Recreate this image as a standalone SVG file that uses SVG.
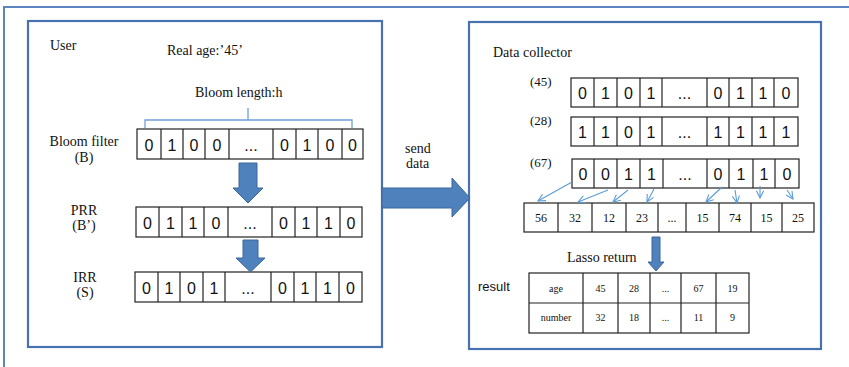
<svg xmlns="http://www.w3.org/2000/svg" width="849" height="367" viewBox="0 0 849 367">
<defs>
<style>
.frame{fill:none;stroke:#5b86c0;stroke-width:2}
.box{fill:#fff;stroke:#4673ad;stroke-width:2.2}
.cell{fill:#fff;stroke:#222;stroke-width:1.2}
.div{stroke:#222;stroke-width:1.2}
.lbl{font-family:"Liberation Serif","Times New Roman",serif;font-size:14px;fill:#111}
.bit{font-family:"Liberation Sans",Arial,sans-serif;font-size:16px;fill:#111;text-anchor:middle}
.num{font-family:"Liberation Serif","Times New Roman",serif;font-size:12px;fill:#111;text-anchor:middle}
.tab{font-family:"Liberation Serif","Times New Roman",serif;font-size:10px;fill:#111;text-anchor:middle}
.sans{font-family:"Liberation Sans",Arial,sans-serif;font-size:13px;fill:#111}
.big{fill:#4f81bd;stroke:#3c679b;stroke-width:1}
.thin{fill:none;stroke:#5b9bd5;stroke-width:1.1}
.brace{fill:none;stroke:#6fa0d8;stroke-width:1.3}
</style>
<marker id="open" viewBox="0 0 10 10" refX="9" refY="5" markerWidth="9" markerHeight="9" orient="auto" markerUnits="userSpaceOnUse">
<path d="M1,1 L9,5 L1,9" fill="none" stroke="#5b9bd5" stroke-width="1.2"/>
</marker>
</defs>
<rect width="849" height="367" fill="#fff"/>
<rect class="frame" x="4" y="7" width="860" height="380"/>

<g id="user">
<rect class="box" x="28" y="21" width="354" height="326"/>
<text class="lbl" x="50" y="50">User</text>
<text class="lbl" x="167" y="55">Real age:’45’</text>
<text class="lbl" x="195" y="97">Bloom length:h</text>
<path class="brace" d="M145,128 V120 H248 V108 M248,120 H352 V128"/>
<text class="lbl" x="84" y="146" text-anchor="middle">Bloom filter</text>
<text class="lbl" x="84" y="162" text-anchor="middle">(B)</text>
<text class="lbl" x="84" y="215" text-anchor="middle">PRR</text>
<text class="lbl" x="84" y="230" text-anchor="middle">(B’)</text>
<text class="lbl" x="85" y="282" text-anchor="middle">IRR</text>
<text class="lbl" x="85" y="297" text-anchor="middle">(S)</text>
</g>

<g id="bloom-filter">
<rect class="cell" x="137" y="129" width="226" height="30"/>
<path class="div" d="M161,129V159M183,129V159M205,129V159M229,129V159M273,129V159M296,129V159M318,129V159M342,129V159"/>
<text class="bit" y="151"><tspan x="149">0</tspan><tspan x="172">1</tspan><tspan x="194">0</tspan><tspan x="217">0</tspan><tspan x="251">...</tspan><tspan x="284.5">0</tspan><tspan x="307">1</tspan><tspan x="330">0</tspan><tspan x="352.5">0</tspan></text>
</g>

<g id="prr">
<rect class="cell" x="136" y="207" width="226" height="30"/>
<path class="div" d="M159,207V237M182,207V237M204,207V237M228,207V237M272,207V237M295,207V237M317,207V237M340,207V237"/>
<text class="bit" y="229"><tspan x="147.5">0</tspan><tspan x="170.5">1</tspan><tspan x="193">1</tspan><tspan x="216">0</tspan><tspan x="250">...</tspan><tspan x="283.5">0</tspan><tspan x="306">1</tspan><tspan x="328.5">1</tspan><tspan x="351">0</tspan></text>
</g>

<g id="irr">
<rect class="cell" x="135" y="272" width="227" height="30"/>
<path class="div" d="M158,272V302M180,272V302M203,272V302M225,272V302M271,272V302M294,272V302M316,272V302M339,272V302"/>
<text class="bit" y="294"><tspan x="146.5">0</tspan><tspan x="169">1</tspan><tspan x="191.5">0</tspan><tspan x="214">1</tspan><tspan x="248">...</tspan><tspan x="282.5">0</tspan><tspan x="305">1</tspan><tspan x="327.5">1</tspan><tspan x="350.5">0</tspan></text>
</g>

<g id="collector">
<rect class="box" x="469" y="22" width="352" height="327"/>
<text class="lbl" x="493" y="57">Data collector</text>
<text class="lbl" x="530" y="86" style="font-size:13px">(45)</text>
<text class="lbl" x="530" y="125" style="font-size:13px">(28)</text>
<text class="lbl" x="530" y="167" style="font-size:13px">(67)</text>
<text class="sans" x="478" y="291">result</text>
<text class="lbl" x="567" y="262">Lasso return</text>
</g>

<g id="row45">
<rect class="cell" x="571" y="78" width="227" height="29"/>
<path class="div" d="M594,78V107M617,78V107M640,78V107M662,78V107M707,78V107M729,78V107M752,78V107M774,78V107"/>
<text class="bit" y="99"><tspan x="582.5">0</tspan><tspan x="605.5">1</tspan><tspan x="628.5">0</tspan><tspan x="651">1</tspan><tspan x="684.5">...</tspan><tspan x="718">0</tspan><tspan x="740.5">1</tspan><tspan x="763">1</tspan><tspan x="786">0</tspan></text>
</g>

<g id="row28">
<rect class="cell" x="571" y="117" width="227" height="29"/>
<path class="div" d="M594,117V146M617,117V146M640,117V146M662,117V146M707,117V146M729,117V146M752,117V146M774,117V146"/>
<text class="bit" y="138"><tspan x="582.5">1</tspan><tspan x="605.5">1</tspan><tspan x="628.5">0</tspan><tspan x="651">1</tspan><tspan x="684.5">...</tspan><tspan x="718">1</tspan><tspan x="740.5">1</tspan><tspan x="763">1</tspan><tspan x="786">1</tspan></text>
</g>

<g id="row67">
<rect class="cell" x="572" y="159" width="227" height="29"/>
<path class="div" d="M594,159V188M617,159V188M640,159V188M663,159V188M707,159V188M729,159V188M753,159V188M775,159V188"/>
<text class="bit" y="180"><tspan x="583">0</tspan><tspan x="605.5">0</tspan><tspan x="628.5">1</tspan><tspan x="651.5">1</tspan><tspan x="685">...</tspan><tspan x="718">0</tspan><tspan x="741">1</tspan><tspan x="764">1</tspan><tspan x="787">0</tspan></text>
</g>

<g id="counts">
<rect class="cell" x="524" y="203" width="290" height="29"/>
<path class="div" d="M558,203V232M592,203V232M626,203V232M658,203V232M686,203V232M719,203V232M751,203V232M782,203V232"/>
<text class="num" y="222"><tspan x="541">56</tspan><tspan x="575">32</tspan><tspan x="609">12</tspan><tspan x="642">23</tspan><tspan x="672">...</tspan><tspan x="702.5">15</tspan><tspan x="735">74</tspan><tspan x="766.5">15</tspan><tspan x="798">25</tspan></text>
</g>

<g id="result-table">
<rect class="cell" x="529" y="273" width="220" height="60"/>
<path class="div" d="M529,303H749M583,273V333M618,273V333M650,273V333M681,273V333M716,273V333"/>
<text class="tab" y="292"><tspan x="556">age</tspan><tspan x="600.5">45</tspan><tspan x="634">28</tspan><tspan x="665.5">...</tspan><tspan x="698.5">67</tspan><tspan x="732.5">19</tspan></text>
<text class="tab" y="321"><tspan x="556">number</tspan><tspan x="600.5">32</tspan><tspan x="634">18</tspan><tspan x="665.5">...</tspan><tspan x="698.5">11</tspan><tspan x="732.5">9</tspan></text>
</g>

<g id="connectors">
<path class="big" d="M239,163 H257 V188 H263 L248,203 L233,188 H239 Z"/>
<path class="big" d="M243,240 H258 V258 H265 L250.5,272 L236,258 H243 Z"/>
<path class="big" d="M382,188 H452 V178 L470,198 L452,217 V208 H382 Z"/>
<text class="lbl" x="405" y="153">send</text>
<text class="lbl" x="406" y="168">data</text>
<path class="big" d="M652,237 H660 V262 H664 L656,271 L648,262 H652 Z"/>
<g marker-end="url(#open)">
<line class="thin" x1="572" y1="182" x2="538" y2="201"/>
<line class="thin" x1="608" y1="190" x2="578" y2="202"/>
<line class="thin" x1="628" y1="190" x2="613" y2="202"/>
<line class="thin" x1="654" y1="189" x2="647" y2="202"/>
<line class="thin" x1="722" y1="187" x2="706" y2="202"/>
<line class="thin" x1="735" y1="190" x2="737" y2="203"/>
<line class="thin" x1="760" y1="186" x2="760" y2="198"/>
<line class="thin" x1="787" y1="190" x2="793" y2="199"/>
</g>
</g>
</svg>
